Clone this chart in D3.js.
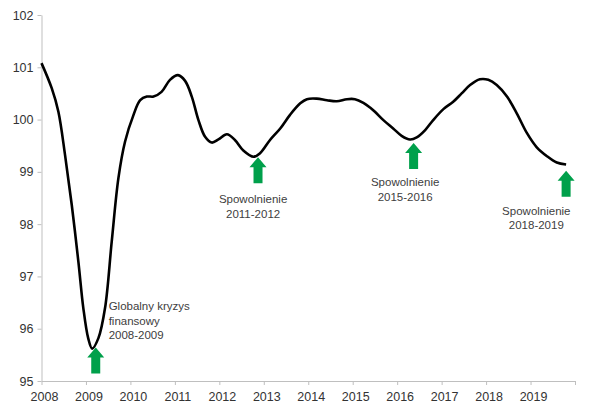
<!DOCTYPE html>
<html lang="pl">

<head>
    <meta charset="utf-8">
    <script src="https://d3js.org/d3.v7.min.js"></script>
    <style>
        body { margin: 0; background: #fff; }
        svg { font-family: "Liberation Sans", Arial, sans-serif; }
    </style>
</head>

<body>
    <div class="chart"></div>

    <script>
        // Data (decimal year, index value)
        const years = [
            2008.00, 2008.23, 2008.38, 2008.53, 2008.68, 2008.83, 2008.94,
            2009.05, 2009.14, 2009.28, 2009.43, 2009.58, 2009.73, 2009.88,
            2010.07, 2010.22, 2010.37, 2010.52, 2010.70, 2010.89,
            2011.07, 2011.23, 2011.38, 2011.53, 2011.68, 2011.83, 2011.98,
            2012.17, 2012.35, 2012.54, 2012.77, 2012.92,
            2013.14, 2013.37, 2013.59, 2013.82, 2013.97,
            2014.19, 2014.42, 2014.64, 2014.87,
            2015.05, 2015.24, 2015.39, 2015.50, 2015.69, 2015.91,
            2016.10, 2016.29, 2016.44, 2016.63, 2016.81,
            2017.04, 2017.26, 2017.45, 2017.64, 2017.86,
            2018.05, 2018.24, 2018.47, 2018.69, 2018.92,
            2019.14, 2019.37, 2019.59, 2019.80
        ];
        const values = [
            101.08, 100.60, 100.15, 99.32, 98.37, 97.28, 96.40,
            95.82, 95.62, 95.82, 96.40, 97.67, 98.88, 99.58,
            100.09, 100.37, 100.44, 100.44, 100.53, 100.76,
            100.85, 100.74, 100.44, 99.99, 99.67, 99.56, 99.62,
            99.72, 99.61, 99.41, 99.29, 99.36,
            99.61, 99.83, 100.09, 100.31, 100.39,
            100.40, 100.37, 100.35, 100.39,
            100.39, 100.32, 100.23, 100.15, 99.99, 99.83,
            99.69, 99.62, 99.66, 99.80, 99.99,
            100.20, 100.34, 100.50, 100.66, 100.77,
            100.76, 100.66, 100.44, 100.12, 99.74,
            99.47, 99.30, 99.18, 99.14
        ];
        const xTicks = d3.range(2008, 2021);
        const yTicks = d3.range(95, 103);

        // Annotations: arrow tip (year, value) and label lines
        const arrowYears = [2009.22, 2012.87, 2016.37, 2019.80];
        const arrowValues = [95.64, 99.28, 99.55, 99.02];
        const labelLines = [
            ["Globalny kryzys", "finansowy", "2008-2009"],
            ["Spowolnienie", "2011-2012"],
            ["Spowolnienie", "2015-2016"],
            ["Spowolnienie", "2018-2019"]
        ];
        const labelYears = [2009.51, 2012.76, 2016.18, 2019.13];
        const labelValues = [96.35, 98.4, 98.72, 98.18];
        const labelAnchors = ["start", "middle", "middle", "middle"];

        // Set Dimensions
        const width = 590;
        const height = 414;
        const mLeft = 41.5, mRight = 575, mTop = 15, mBottom = 381;

        const svg = d3.select(".chart")
            .append("svg")
            .attr("width", width)
            .attr("height", height);

        const x = d3.scaleLinear().domain([2008, 2020]).range([mLeft, mRight]);
        const y = d3.scaleLinear().domain([95, 102]).range([mBottom, mTop]);

        // X axis
        const xAxis = svg.append("g")
            .attr("transform", "translate(0," + mBottom + ")")
            .call(d3.axisBottom(x).tickValues(xTicks).tickSize(4).tickSizeOuter(0)
                .tickFormat(d => d < 2020 ? d : ""));
        xAxis.selectAll("text").attr("dx", 2.5).attr("dy", "1.05em");

        // Y axis
        const yAxis = svg.append("g")
            .attr("transform", "translate(" + mLeft + ",0)")
            .call(d3.axisLeft(y).tickValues(yTicks).tickSize(4).tickSizeOuter(0)
                .tickFormat(d3.format("d")));
        yAxis.selectAll("text").attr("dx", -1);

        [xAxis, yAxis].forEach(a => {
            a.select(".domain").attr("stroke", "#bfbfbf");
            a.selectAll(".tick line").attr("stroke", "#bfbfbf");
            a.selectAll("text").attr("font-size", 12.5).attr("fill", "#333")
                .attr("font-family", "Liberation Sans, Arial, sans-serif");
        });

        // Line
        const points = years.map((d, i) => ({ x: d, y: values[i] }));
        svg.append("path")
            .datum(points)
            .attr("fill", "none").attr("stroke", "#000").attr("stroke-width", 2.6)
            .attr("stroke-linejoin", "round")
            .attr("d", d3.line()
                .curve(d3.curveCatmullRom.alpha(0.5))
                .x(d => x(d.x))
                .y(d => y(d.y)));

        // green arrows
        const headW = 17, shaftW = 9, headH = 10, arrowH = 26;
        svg.selectAll(".arrow")
            .data(arrowYears)
            .enter()
            .append("polygon")
            .attr("class", "arrow")
            .attr("points", (d, i) => {
                const cx = x(d), ty = y(arrowValues[i]);
                return [
                    [cx, ty], [cx + headW / 2, ty + headH], [cx + shaftW / 2, ty + headH],
                    [cx + shaftW / 2, ty + arrowH], [cx - shaftW / 2, ty + arrowH],
                    [cx - shaftW / 2, ty + headH], [cx - headW / 2, ty + headH]
                ].map(p => p.join(",")).join(" ");
            })
            .style("fill", "#00a04b");

        // labels
        labelLines.forEach((lines, i) => {
            const t = svg.append("text")
                .attr("x", x(labelYears[i]))
                .attr("y", y(labelValues[i]))
                .attr("text-anchor", labelAnchors[i])
                .attr("font-size", 11.5)
                .attr("fill", "#404040");
            lines.forEach((s, j) => {
                t.append("tspan")
                    .attr("x", x(labelYears[i]))
                    .attr("dy", j == 0 ? 0 : 14.5)
                    .text(s);
            });
        });
    </script>
</body>

</html>
